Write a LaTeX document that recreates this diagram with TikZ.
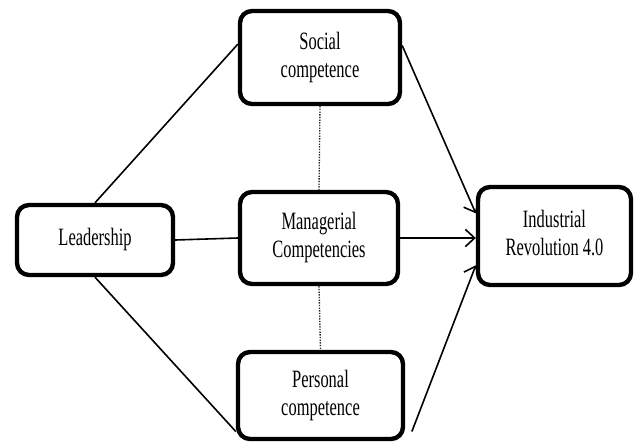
\documentclass[tikz,border=0pt]{standalone}
\usepackage{fontspec}
\setmainfont{Liberation Serif}
\usepackage{graphicx}
\usetikzlibrary{arrows.meta}

\newcommand{\boxtext}[1]{\scalebox{0.66}[1]{\begin{tabular}{@{}c@{}}#1\end{tabular}}}

\begin{document}
\begin{tikzpicture}[x=0.75pt,y=0.75pt,yscale=-1,xscale=1,
  box/.style={draw, line width=3.3pt, rounded corners=9pt, inner sep=0pt,
    font=\fontsize{18.7}{21}\selectfont},
  link/.style={line width=1.2pt},
  arr/.style={line width=1.2pt, -{Straight Barb[length=7pt,width=13pt,line width=1.2pt]}},
  dots/.style={densely dotted, line width=1pt, black!85}]
\useasboundingbox (0,0) rectangle (635,443);

%Rounded Rect [id:lead] 
\node [box, minimum width=117pt, minimum height=52.5pt] (lead) at (95,240) {\boxtext{Leadership}};
%Rounded Rect [id:soc] 
\node [box, minimum width=120pt, minimum height=69.75pt] (soc) at (320,57.5) {\boxtext{Social\\competence}};
%Rounded Rect [id:mgr] 
\node [box, minimum width=118.5pt, minimum height=69pt] (mgr) at (319,238) {\boxtext{Managerial\\Competencies}};
%Rounded Rect [id:per] 
\node [box, minimum width=123.75pt, minimum height=65.25pt] (per) at (320.5,395.5) {\boxtext{Personal\\competence}};
%Rounded Rect [id:ind] 
\node [box, minimum width=114.75pt, minimum height=73.5pt] (ind) at (554.5,236) {\boxtext{Industrial\\Revolution 4.0}};

%Straight Lines (yshift runs downward here, as yscale=-1)
\draw [link] (lead.north) -- ([yshift=-10pt]soc.west) ;
\draw [link] (lead.east) -- (mgr.west) ;
\draw [link] (lead.south) -- ([yshift=27pt]per.west) ;

%Dotted Lines 
\draw [dots] (soc.south) -- (mgr.north) ;
\draw [dots] (mgr.south) -- (per.north) ;

%Arrows 
\draw [arr] ([yshift=-9pt]soc.east) -- ([yshift=-17pt]ind.west) ;
\draw [arr] (mgr.east) -- (mgr.east -| ind.west) ;
\draw [arr] ([xshift=5pt,yshift=27pt]per.east) -- ([yshift=22pt]ind.west) ;

\end{tikzpicture}
\end{document}
